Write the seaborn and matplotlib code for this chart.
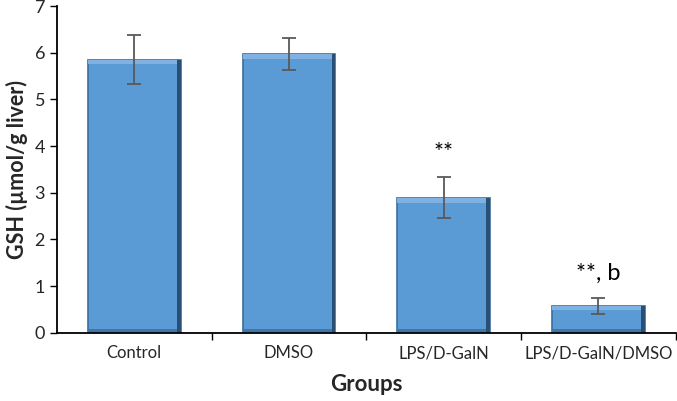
import numpy as np
import pandas as pd
import matplotlib
matplotlib.use("Agg")
import matplotlib.pyplot as plt
from matplotlib.patches import Rectangle
import seaborn as sns

groups = ["Control", "DMSO", "LPS/D-GalN", "LPS/D-GalN/DMSO"]
gsh = [5.85, 5.97, 2.89, 0.58]
gsh_err = [0.52, 0.35, 0.44, 0.17]
marks = ["", "", "**", "**, b"]

df = pd.DataFrame({"group": groups, "gsh": gsh})

sns.set_style("white")
plt.rcParams["font.family"] = ["Lato", "DejaVu Sans"]

fig = plt.figure(figsize=(6.77, 4.01), dpi=100)
ax = fig.add_axes([0.084, 0.170, 0.914, 0.815])

sns.barplot(data=df, x="group", y="gsh", color="#5B9BD5", width=0.6,
            saturation=1, edgecolor="#3A6E9E", linewidth=1.2, ax=ax)

# bevel look: lighter top strip, darker right side, taken from the drawn bars
for p in list(ax.patches):
    x0, y0 = p.get_x(), p.get_y()
    w, h = p.get_width(), p.get_height()
    band = min(0.1, h * 0.2)
    ax.add_patch(Rectangle((x0, y0 + h - band), w, band, color="#7FB2E2",
                           lw=0, zorder=p.get_zorder() + 0.1))
    ax.add_patch(Rectangle((x0 + w * 0.96, y0), w * 0.04, h, color="#2B4F73",
                           lw=0, zorder=p.get_zorder() + 0.2))
    ax.add_patch(Rectangle((x0, y0), w, min(0.08, h * 0.15), color="#3F75A8",
                           lw=0, zorder=p.get_zorder() + 0.15))

xpos = np.arange(len(groups))
ax.errorbar(xpos, gsh, yerr=gsh_err, fmt="none", ecolor="#595959",
            elinewidth=1.3, capsize=5, capthick=1.3, zorder=5)

for xi, yi, ei, m in zip(xpos, gsh, gsh_err, marks):
    if m:
        ax.text(xi, yi + ei + 0.3, m, ha="center", va="bottom",
                fontsize=17, color="black")

ax.set_xlim(-0.5, 3.5)
ax.set_ylim(0, 7)
ax.set_yticks(range(0, 8))
ax.set_xticks(xpos)
ax.set_xticks(np.arange(0.5, 4.0, 1.0), minor=True)
ax.tick_params(axis="x", which="major", length=0, labelsize=12, pad=9)
ax.tick_params(axis="x", which="minor", length=5, width=1, direction="out",
               bottom=True, color="black")
ax.tick_params(axis="y", length=5, width=1, direction="out", left=True,
               labelsize=13, color="black")

for s in ["top", "right"]:
    ax.spines[s].set_visible(False)
for s in ["left", "bottom"]:
    ax.spines[s].set_color("black")
    ax.spines[s].set_linewidth(1.3)

ax.set_xlabel("Groups", fontsize=16, fontweight="bold", labelpad=9)
ax.set_ylabel("GSH (µmol/g liver)", fontsize=15.5, fontweight="bold", labelpad=5)

fig.savefig("out.png", dpi=100)
